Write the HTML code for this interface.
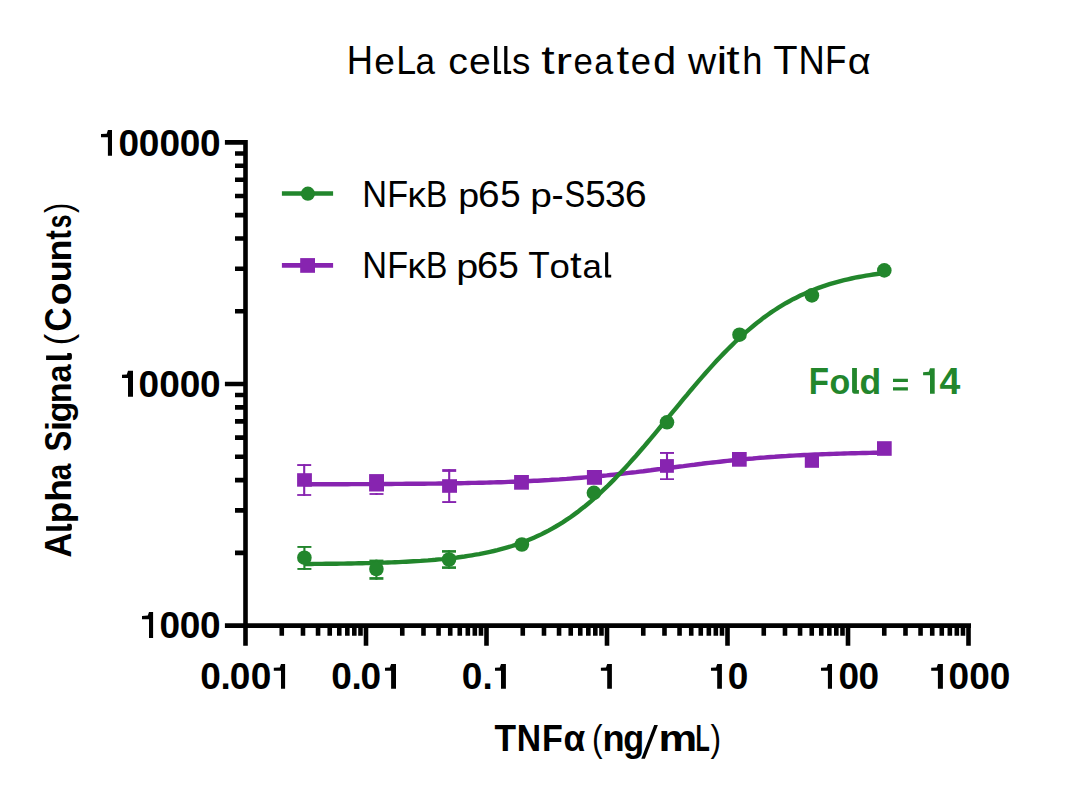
<!DOCTYPE html><html><head><meta charset="utf-8"><style>html,body{margin:0;padding:0;background:#fff}svg{display:block}text{font-family:"Liberation Sans",sans-serif}</style></head><body>
<svg width="1080" height="796" viewBox="0 0 1080 796">
<rect width="1080" height="796" fill="#fff"/>
<path d="M245.50,140.1 V645.8 M224.90,625.60 H245.50 M235.00,552.87 H245.50 M235.00,510.33 H245.50 M235.00,480.14 H245.50 M235.00,456.73 H245.50 M235.00,437.60 H245.50 M235.00,421.42 H245.50 M235.00,407.41 H245.50 M235.00,395.06 H245.50 M224.90,384.00 H245.50 M235.00,311.27 H245.50 M235.00,268.73 H245.50 M235.00,238.54 H245.50 M235.00,215.13 H245.50 M235.00,196.00 H245.50 M235.00,179.82 H245.50 M235.00,165.81 H245.50 M235.00,153.46 H245.50 M224.90,142.40 H245.50 M245.50,625.60 H971 M245.50,625.60 V645.8 M281.77,625.60 V635.8 M302.99,625.60 V635.8 M318.05,625.60 V635.8 M329.73,625.60 V635.8 M339.27,625.60 V635.8 M347.33,625.60 V635.8 M354.32,625.60 V635.8 M360.49,625.60 V635.8 M366.00,625.60 V645.8 M402.27,625.60 V635.8 M423.49,625.60 V635.8 M438.55,625.60 V635.8 M450.23,625.60 V635.8 M459.77,625.60 V635.8 M467.83,625.60 V635.8 M474.82,625.60 V635.8 M480.99,625.60 V635.8 M486.50,625.60 V645.8 M522.77,625.60 V635.8 M543.99,625.60 V635.8 M559.05,625.60 V635.8 M570.73,625.60 V635.8 M580.27,625.60 V635.8 M588.33,625.60 V635.8 M595.32,625.60 V635.8 M601.49,625.60 V635.8 M607.00,625.60 V645.8 M643.27,625.60 V635.8 M664.49,625.60 V635.8 M679.55,625.60 V635.8 M691.23,625.60 V635.8 M700.77,625.60 V635.8 M708.83,625.60 V635.8 M715.82,625.60 V635.8 M721.99,625.60 V635.8 M727.50,625.60 V645.8 M763.77,625.60 V635.8 M784.99,625.60 V635.8 M800.05,625.60 V635.8 M811.73,625.60 V635.8 M821.27,625.60 V635.8 M829.33,625.60 V635.8 M836.32,625.60 V635.8 M842.49,625.60 V635.8 M848.00,625.60 V645.8 M884.27,625.60 V635.8 M905.49,625.60 V635.8 M920.55,625.60 V635.8 M932.23,625.60 V635.8 M941.77,625.60 V635.8 M949.83,625.60 V635.8 M956.82,625.60 V635.8 M962.99,625.60 V635.8 M968.5,625.60 V645.8" stroke="#000" stroke-width="4.6" fill="none"/>
<text x="200.34 220.39 229.74 250.64" y="688.80" font-size="37" font-weight="bold" fill="#000">0.00</text>
<path d="M281.00,663.90 H285.10 V688.80 H281.00 V670.87 H273.80 V667.79 L279.80,667.39 Z" fill="#000"/>
<text x="331.34 351.39 360.44" y="688.80" font-size="37" font-weight="bold" fill="#000">0.0</text>
<path d="M391.10,663.90 H396.00 V688.80 H391.10 V670.87 H385.00 V667.79 L389.90,667.39 Z" fill="#000"/>
<text x="461.79 482.49" y="688.80" font-size="37" font-weight="bold" fill="#000">0.</text>
<path d="M501.00,663.90 H505.90 V688.80 H501.00 V670.87 H495.00 V667.79 L499.80,667.39 Z" fill="#000"/>
<path d="M607.20,663.90 H611.90 V688.80 H607.20 V670.87 H600.90 V667.79 L606.00,667.39 Z" fill="#000"/>
<text x="727.64" y="688.80" font-size="37" font-weight="bold" fill="#000">0</text>
<path d="M717.20,663.90 H721.90 V688.80 H717.20 V670.87 H711.00 V667.79 L716.00,667.39 Z" fill="#000"/>
<text x="838.54 858.44" y="688.80" font-size="37" font-weight="bold" fill="#000">00</text>
<path d="M827.90,663.90 H832.00 V688.80 H827.90 V670.87 H821.00 V667.79 L826.70,667.39 Z" fill="#000"/>
<text x="948.44 969.14 989.64" y="688.80" font-size="37" font-weight="bold" fill="#000">000</text>
<path d="M937.90,663.90 H942.90 V688.80 H937.90 V670.87 H931.20 V667.79 L936.70,667.39 Z" fill="#000"/>
<text x="118.44 138.64 159.44 179.64 200.04" y="155.70" font-size="37" font-weight="bold" fill="#000">00000</text>
<path d="M107.90,130.10 H112.00 V155.70 H107.90 V137.27 H101.00 V134.08 L106.70,133.68 Z" fill="#000"/>
<text x="138.54 159.34 179.74 200.04" y="396.80" font-size="37" font-weight="bold" fill="#000">0000</text>
<path d="M128.00,370.80 H133.00 V396.80 H128.00 V378.08 H122.00 V374.84 L126.80,374.44 Z" fill="#000"/>
<text x="159.44 179.74 200.04" y="638.00" font-size="37" font-weight="bold" fill="#000">000</text>
<path d="M149.00,611.90 H153.10 V638.00 H149.00 V619.21 H142.00 V615.95 L147.80,615.55 Z" fill="#000"/>
<text x="346.82" y="73.90" font-size="40.5" font-weight="normal" fill="#000" textLength="26.24" lengthAdjust="spacingAndGlyphs">H</text>
<text x="374.22" y="73.90" font-size="37.2" font-weight="normal" fill="#000" textLength="20.62" lengthAdjust="spacingAndGlyphs">e</text>
<text x="396.16" y="73.90" font-size="40.5" font-weight="normal" fill="#000" textLength="19.93" lengthAdjust="spacingAndGlyphs">L</text>
<text x="415.61" y="73.90" font-size="37.2" font-weight="normal" fill="#000" textLength="19.49" lengthAdjust="spacingAndGlyphs">a</text>
<text x="448.23" y="73.90" font-size="37.2" font-weight="normal" fill="#000" textLength="19.71" lengthAdjust="spacingAndGlyphs">c</text>
<text x="469.03" y="73.90" font-size="37.2" font-weight="normal" fill="#000" textLength="21.81" lengthAdjust="spacingAndGlyphs">e</text>
<text x="511.98" y="73.90" font-size="37.2" font-weight="normal" fill="#000" textLength="18.35" lengthAdjust="spacingAndGlyphs">s</text>
<text x="541.17" y="73.90" font-size="40" font-weight="normal" fill="#000" textLength="13.38" lengthAdjust="spacingAndGlyphs">t</text>
<text x="555.41" y="73.90" font-size="37.2" font-weight="normal" fill="#000" textLength="16.52" lengthAdjust="spacingAndGlyphs">r</text>
<text x="573.42" y="73.90" font-size="37.2" font-weight="normal" fill="#000" textLength="19.32" lengthAdjust="spacingAndGlyphs">e</text>
<text x="594.25" y="73.90" font-size="37.2" font-weight="normal" fill="#000" textLength="18.95" lengthAdjust="spacingAndGlyphs">a</text>
<text x="616.41" y="73.90" font-size="40" font-weight="normal" fill="#000" textLength="12.62" lengthAdjust="spacingAndGlyphs">t</text>
<text x="630.85" y="73.90" font-size="37.2" font-weight="normal" fill="#000" textLength="20.27" lengthAdjust="spacingAndGlyphs">e</text>
<text x="652.94" y="73.90" font-size="38.2" font-weight="normal" fill="#000" textLength="23.25" lengthAdjust="spacingAndGlyphs">d</text>
<text x="687.96" y="73.90" font-size="37.2" font-weight="normal" fill="#000" textLength="28.15" lengthAdjust="spacingAndGlyphs">w</text>
<text x="716.43" y="73.90" font-size="38.2" font-weight="normal" fill="#000" textLength="10.87" lengthAdjust="spacingAndGlyphs">i</text>
<text x="726.37" y="73.90" font-size="40" font-weight="normal" fill="#000" textLength="13.38" lengthAdjust="spacingAndGlyphs">t</text>
<text x="742.19" y="73.90" font-size="38.2" font-weight="normal" fill="#000" textLength="20.17" lengthAdjust="spacingAndGlyphs">h</text>
<text x="773.21" y="73.90" font-size="40.5" font-weight="normal" fill="#000" textLength="24.31" lengthAdjust="spacingAndGlyphs">T</text>
<text x="798.52" y="73.90" font-size="40.5" font-weight="normal" fill="#000" textLength="26.24" lengthAdjust="spacingAndGlyphs">N</text>
<text x="825.03" y="73.90" font-size="40.5" font-weight="normal" fill="#000" textLength="21.37" lengthAdjust="spacingAndGlyphs">F</text>
<text x="847.73" y="73.90" font-size="37.2" font-weight="normal" fill="#000" textLength="23.02" lengthAdjust="spacingAndGlyphs">α</text>
<path d="M494.10,46.10 H497.30 V70.90 H501.10 V73.90 H495.40 Q494.10,73.90 494.10,72.60 Z" fill="#000"/>
<path d="M504.20,46.10 H507.40 V70.90 H511.20 V73.90 H505.50 Q504.20,73.90 504.20,72.60 Z" fill="#000"/>
<text x="362.18" y="206.80" font-size="37.3" font-weight="normal" fill="#000" textLength="24.82" lengthAdjust="spacingAndGlyphs">N</text>
<text x="387.20" y="206.80" font-size="37.3" font-weight="normal" fill="#000" textLength="20.87" lengthAdjust="spacingAndGlyphs">F</text>
<text x="407.52" y="206.80" font-size="35" font-weight="normal" fill="#000" textLength="18.43" lengthAdjust="spacingAndGlyphs">κ</text>
<text x="426.12" y="206.80" font-size="37.3" font-weight="normal" fill="#000" textLength="21.37" lengthAdjust="spacingAndGlyphs">B</text>
<text x="458.38" y="206.80" font-size="33.6" font-weight="normal" fill="#000" textLength="20.90" lengthAdjust="spacingAndGlyphs">p</text>
<text x="478.03" y="206.80" font-size="37.3" font-weight="normal" fill="#000" textLength="21.57" lengthAdjust="spacingAndGlyphs">6</text>
<text x="500.33" y="206.80" font-size="37.3" font-weight="normal" fill="#000" textLength="20.41" lengthAdjust="spacingAndGlyphs">5</text>
<text x="530.19" y="206.80" font-size="33.6" font-weight="normal" fill="#000" textLength="21.64" lengthAdjust="spacingAndGlyphs">p</text>
<text x="551.38" y="206.80" font-size="36.2" font-weight="normal" fill="#000" textLength="12.14" lengthAdjust="spacingAndGlyphs">-</text>
<text x="564.40" y="206.80" font-size="37.3" font-weight="normal" fill="#000" textLength="20.62" lengthAdjust="spacingAndGlyphs">S</text>
<text x="585.23" y="206.80" font-size="37.3" font-weight="normal" fill="#000" textLength="20.41" lengthAdjust="spacingAndGlyphs">5</text>
<text x="604.89" y="206.80" font-size="37.3" font-weight="normal" fill="#000" textLength="20.53" lengthAdjust="spacingAndGlyphs">3</text>
<text x="624.70" y="206.80" font-size="37.3" font-weight="normal" fill="#000" textLength="21.94" lengthAdjust="spacingAndGlyphs">6</text>
<text x="362.18" y="277.60" font-size="37.3" font-weight="normal" fill="#000" textLength="24.82" lengthAdjust="spacingAndGlyphs">N</text>
<text x="387.20" y="277.60" font-size="37.3" font-weight="normal" fill="#000" textLength="20.87" lengthAdjust="spacingAndGlyphs">F</text>
<text x="407.52" y="277.60" font-size="35" font-weight="normal" fill="#000" textLength="18.43" lengthAdjust="spacingAndGlyphs">κ</text>
<text x="426.12" y="277.60" font-size="37.3" font-weight="normal" fill="#000" textLength="21.37" lengthAdjust="spacingAndGlyphs">B</text>
<text x="456.35" y="277.60" font-size="33.6" font-weight="normal" fill="#000" textLength="22.01" lengthAdjust="spacingAndGlyphs">p</text>
<text x="477.06" y="277.60" font-size="37.3" font-weight="normal" fill="#000" textLength="21.21" lengthAdjust="spacingAndGlyphs">6</text>
<text x="498.22" y="277.60" font-size="37.3" font-weight="normal" fill="#000" textLength="20.53" lengthAdjust="spacingAndGlyphs">5</text>
<text x="528.31" y="277.60" font-size="37.3" font-weight="normal" fill="#000" textLength="21.50" lengthAdjust="spacingAndGlyphs">T</text>
<text x="549.56" y="277.60" font-size="33.6" font-weight="normal" fill="#000" textLength="20.38" lengthAdjust="spacingAndGlyphs">o</text>
<text x="570.07" y="277.60" font-size="36" font-weight="normal" fill="#000" textLength="11.64" lengthAdjust="spacingAndGlyphs">t</text>
<text x="582.62" y="277.60" font-size="33.6" font-weight="normal" fill="#000" textLength="19.38" lengthAdjust="spacingAndGlyphs">a</text>
<path d="M605.10,252.20 H608.20 V274.70 H611.20 V277.60 H606.40 Q605.10,277.60 605.10,276.30 Z" fill="#000"/>
<path d="M281.9,193.5 H333.1" stroke="#22862c" stroke-width="4.6"/>
<circle cx="307.9" cy="193.7" r="7.1" fill="#22862c"/>
<path d="M281.9,265.4 H333.1" stroke="#8724b0" stroke-width="4.6"/>
<rect x="300.2" y="258.1" width="14.8" height="14.7" fill="#8724b0"/>
<text x="494.60" y="751.00" font-size="37.6" font-weight="bold" fill="#000" textLength="21.58" lengthAdjust="spacingAndGlyphs">T</text>
<text x="516.85" y="751.00" font-size="37.6" font-weight="bold" fill="#000" textLength="24.32" lengthAdjust="spacingAndGlyphs">N</text>
<text x="542.12" y="751.00" font-size="37.6" font-weight="bold" fill="#000" textLength="20.83" lengthAdjust="spacingAndGlyphs">F</text>
<text x="563.62" y="751.00" font-size="36" font-weight="bold" fill="#000" textLength="21.74" lengthAdjust="spacingAndGlyphs">α</text>
<text x="591.94" y="751.00" font-size="37.4" font-weight="normal" fill="#000" textLength="10.55" lengthAdjust="spacingAndGlyphs">(</text>
<text x="602.51" y="751.00" font-size="36" font-weight="bold" fill="#000" textLength="22.14" lengthAdjust="spacingAndGlyphs">n</text>
<text x="623.30" y="751.00" font-size="36" font-weight="bold" fill="#000" textLength="20.89" lengthAdjust="spacingAndGlyphs">g</text>
<text x="658.43" y="751.00" font-size="36" font-weight="bold" fill="#000" textLength="38.66" lengthAdjust="spacingAndGlyphs">m</text>
<text x="695.44" y="751.00" font-size="37.6" font-weight="bold" fill="#000" textLength="14.28" lengthAdjust="spacingAndGlyphs">L</text>
<text x="710.41" y="751.00" font-size="37.4" font-weight="normal" fill="#000" textLength="10.55" lengthAdjust="spacingAndGlyphs">)</text>
<path d="M654.2,725 H657.9 L644.9,758.7 H641.3 Z"/>
<text transform="translate(71.20,0) rotate(-90)" x="-557.46" y="0" font-size="36.6" font-weight="bold" fill="#000" textLength="24.87" lengthAdjust="spacingAndGlyphs">A</text>
<text transform="translate(71.20,0) rotate(-90)" x="-523.33" y="0" font-size="35" font-weight="bold" fill="#000" textLength="21.58" lengthAdjust="spacingAndGlyphs">p</text>
<text transform="translate(71.20,0) rotate(-90)" x="-501.79" y="0" font-size="35" font-weight="bold" fill="#000" textLength="22.70" lengthAdjust="spacingAndGlyphs">h</text>
<text transform="translate(71.20,0) rotate(-90)" x="-480.27" y="0" font-size="34.3" font-weight="bold" fill="#000" textLength="16.48" lengthAdjust="spacingAndGlyphs">a</text>
<text transform="translate(71.20,0) rotate(-90)" x="-451.60" y="0" font-size="36.6" font-weight="bold" fill="#000" textLength="20.82" lengthAdjust="spacingAndGlyphs">S</text>
<text transform="translate(71.20,0) rotate(-90)" x="-431.09" y="0" font-size="35" font-weight="bold" fill="#000" textLength="9.92" lengthAdjust="spacingAndGlyphs">i</text>
<text transform="translate(71.20,0) rotate(-90)" x="-422.41" y="0" font-size="35" font-weight="bold" fill="#000" textLength="21.01" lengthAdjust="spacingAndGlyphs">g</text>
<text transform="translate(71.20,0) rotate(-90)" x="-403.15" y="0" font-size="34.3" font-weight="bold" fill="#000" textLength="20.87" lengthAdjust="spacingAndGlyphs">n</text>
<text transform="translate(71.20,0) rotate(-90)" x="-382.55" y="0" font-size="34.3" font-weight="bold" fill="#000" textLength="18.04" lengthAdjust="spacingAndGlyphs">a</text>
<text transform="translate(71.20,0) rotate(-90)" x="-345.13" y="0" font-size="36.6" font-weight="normal" fill="#000" textLength="11.43" lengthAdjust="spacingAndGlyphs">(</text>
<text transform="translate(71.20,0) rotate(-90)" x="-331.57" y="0" font-size="36.6" font-weight="bold" fill="#000" textLength="24.08" lengthAdjust="spacingAndGlyphs">C</text>
<text transform="translate(71.20,0) rotate(-90)" x="-305.27" y="0" font-size="34.3" font-weight="bold" fill="#000" textLength="22.93" lengthAdjust="spacingAndGlyphs">o</text>
<text transform="translate(71.20,0) rotate(-90)" x="-282.32" y="0" font-size="34.3" font-weight="bold" fill="#000" textLength="21.88" lengthAdjust="spacingAndGlyphs">u</text>
<text transform="translate(71.20,0) rotate(-90)" x="-261.56" y="0" font-size="34.3" font-weight="bold" fill="#000" textLength="21.88" lengthAdjust="spacingAndGlyphs">n</text>
<text transform="translate(71.20,0) rotate(-90)" x="-239.54" y="0" font-size="37" font-weight="bold" fill="#000" textLength="9.28" lengthAdjust="spacingAndGlyphs">t</text>
<text transform="translate(71.20,0) rotate(-90)" x="-228.16" y="0" font-size="34.3" font-weight="bold" fill="#000" textLength="13.67" lengthAdjust="spacingAndGlyphs">s</text>
<text transform="translate(71.20,0) rotate(-90)" x="-212.98" y="0" font-size="36.6" font-weight="normal" fill="#000" textLength="10.30" lengthAdjust="spacingAndGlyphs">)</text>
<path d="M46.1,526.30 H67.2 V523.70 H70.6 Q71.9,524.10 71.9,525.70 V528.70 Q71.9,530.70 69.4,530.70 H46.1 Z"/>
<path d="M46.1,355.60 H67.2 V353.00 H70.6 Q71.9,353.40 71.9,355.00 V358.00 Q71.9,360.00 69.4,360.00 H46.1 Z"/>
<text x="808.78" y="393.80" font-size="37.5" font-weight="bold" fill="#22862c" textLength="20.23" lengthAdjust="spacingAndGlyphs">F</text>
<text x="829.47" y="393.80" font-size="34.5" font-weight="bold" fill="#22862c" textLength="20.75" lengthAdjust="spacingAndGlyphs">o</text>
<text x="859.54" y="393.80" font-size="35.6" font-weight="bold" fill="#22862c" textLength="21.70" lengthAdjust="spacingAndGlyphs">d</text>
<path d="M852.1,368.1 H856.9 V390 H858.9 V393.8 H854.6 Q852.1,393.8 852.1,391 Z" fill="#22862c"/>
<path d="M893,378.7 H907.9 V382.1 H893 Z M893,387.2 H907.9 V390.6 H893 Z" fill="#22862c"/>
<text x="939.43" y="393.80" font-size="37.5" font-weight="bold" fill="#22862c" textLength="20.77" lengthAdjust="spacingAndGlyphs">4</text>
<path d="M930.00,368.20 H934.70 V393.80 H930.00 V375.37 H923.10 V372.18 L928.80,371.78 Z" fill="#22862c"/>
<path d="M303.9,484.3 L307.5,484.3 L311.2,484.2 L314.8,484.2 L318.5,484.2 L322.1,484.2 L325.8,484.2 L329.4,484.2 L333.1,484.2 L336.7,484.2 L340.4,484.2 L344.0,484.2 L347.7,484.2 L351.3,484.1 L355.0,484.1 L358.6,484.1 L362.3,484.1 L365.9,484.1 L369.6,484.1 L373.2,484.1 L376.9,484.0 L380.5,484.0 L384.2,484.0 L387.8,484.0 L391.5,484.0 L395.1,483.9 L398.8,483.9 L402.4,483.9 L406.1,483.8 L409.7,483.8 L413.4,483.8 L417.0,483.8 L420.7,483.7 L424.3,483.7 L428.0,483.6 L431.6,483.6 L435.3,483.6 L438.9,483.5 L442.6,483.5 L446.2,483.4 L449.9,483.3 L453.5,483.3 L457.2,483.2 L460.8,483.2 L464.5,483.1 L468.1,483.0 L471.8,482.9 L475.4,482.9 L479.1,482.8 L482.7,482.7 L486.4,482.6 L490.0,482.5 L493.7,482.4 L497.4,482.3 L501.0,482.2 L504.7,482.1 L508.3,481.9 L512.0,481.8 L515.6,481.7 L519.3,481.5 L522.9,481.4 L526.6,481.2 L530.2,481.0 L533.9,480.8 L537.5,480.7 L541.2,480.5 L544.8,480.3 L548.5,480.1 L552.1,479.8 L555.8,479.6 L559.4,479.4 L563.1,479.1 L566.7,478.9 L570.4,478.6 L574.0,478.3 L577.7,478.0 L581.3,477.7 L585.0,477.4 L588.6,477.1 L592.3,476.8 L595.9,476.4 L599.6,476.1 L603.2,475.7 L606.9,475.4 L610.5,475.0 L614.2,474.6 L617.8,474.2 L621.5,473.8 L625.1,473.4 L628.8,472.9 L632.4,472.5 L636.1,472.1 L639.7,471.6 L643.4,471.2 L647.0,470.7 L650.7,470.3 L654.3,469.8 L658.0,469.3 L661.6,468.9 L665.3,468.4 L668.9,467.9 L672.6,467.5 L676.2,467.0 L679.9,466.5 L683.5,466.1 L687.2,465.6 L690.8,465.1 L694.5,464.7 L698.1,464.2 L701.8,463.8 L705.4,463.3 L709.1,462.9 L712.7,462.5 L716.4,462.1 L720.0,461.7 L723.7,461.3 L727.3,460.9 L731.0,460.5 L734.6,460.1 L738.3,459.8 L741.9,459.4 L745.6,459.1 L749.2,458.8 L752.9,458.5 L756.5,458.1 L760.2,457.8 L763.8,457.6 L767.5,457.3 L771.1,457.0 L774.8,456.8 L778.4,456.5 L782.1,456.3 L785.7,456.1 L789.4,455.8 L793.0,455.6 L796.7,455.4 L800.3,455.2 L804.0,455.0 L807.6,454.9 L811.3,454.7 L814.9,454.5 L818.6,454.4 L822.2,454.2 L825.9,454.1 L829.5,454.0 L833.2,453.9 L836.8,453.7 L840.5,453.6 L844.1,453.5 L847.8,453.4 L851.4,453.3 L855.1,453.2 L858.7,453.1 L862.4,453.0 L866.0,453.0 L869.7,452.9 L873.3,452.8 L877.0,452.8 L880.6,452.7 L884.3,452.6" stroke="#8724b0" stroke-width="4.4" fill="none"/>
<rect x="297.20" y="464.10" width="14.00" height="1.90" fill="#8724b0"/>
<rect x="297.20" y="494.10" width="14.00" height="1.80" fill="#8724b0"/>
<rect x="303.15" y="464.10" width="2.10" height="31.80" fill="#8724b0"/>
<rect x="297.10" y="473.20" width="14.80" height="13.50" fill="#8724b0"/>
<rect x="369.50" y="493.10" width="14.00" height="1.80" fill="#8724b0"/>
<rect x="375.45" y="493.10" width="2.10" height="1.80" fill="#8724b0"/>
<rect x="369.10" y="474.10" width="14.90" height="17.40" fill="#8724b0"/>
<rect x="442.20" y="469.10" width="14.00" height="2.80" fill="#8724b0"/>
<rect x="442.20" y="501.10" width="14.00" height="1.90" fill="#8724b0"/>
<rect x="448.15" y="469.10" width="2.10" height="33.90" fill="#8724b0"/>
<rect x="442.10" y="479.20" width="14.90" height="13.60" fill="#8724b0"/>
<rect x="514.10" y="475.00" width="14.80" height="14.70" fill="#8724b0"/>
<rect x="586.90" y="470.00" width="15.10" height="14.80" fill="#8724b0"/>
<rect x="660.00" y="452.00" width="14.00" height="1.90" fill="#8724b0"/>
<rect x="660.00" y="478.30" width="14.00" height="1.70" fill="#8724b0"/>
<rect x="665.95" y="452.00" width="2.10" height="28.00" fill="#8724b0"/>
<rect x="660.00" y="459.10" width="13.90" height="13.70" fill="#8724b0"/>
<rect x="732.00" y="452.00" width="14.70" height="14.70" fill="#8724b0"/>
<rect x="804.80" y="453.50" width="14.20" height="14.30" fill="#8724b0"/>
<rect x="877.00" y="441.20" width="14.70" height="14.60" fill="#8724b0"/>
<path d="M303.9,564.0 L307.5,564.0 L311.2,564.0 L314.8,563.9 L318.5,563.9 L322.1,563.9 L325.8,563.8 L329.4,563.8 L333.1,563.7 L336.7,563.7 L340.4,563.6 L344.0,563.6 L347.7,563.5 L351.3,563.5 L355.0,563.4 L358.6,563.3 L362.3,563.2 L365.9,563.1 L369.6,563.1 L373.2,563.0 L376.9,562.9 L380.5,562.7 L384.2,562.6 L387.8,562.5 L391.5,562.4 L395.1,562.2 L398.8,562.1 L402.4,561.9 L406.1,561.7 L409.7,561.5 L413.4,561.3 L417.0,561.1 L420.7,560.9 L424.3,560.6 L428.0,560.4 L431.6,560.1 L435.3,559.8 L438.9,559.4 L442.6,559.1 L446.2,558.7 L449.9,558.3 L453.5,557.9 L457.2,557.5 L460.8,557.0 L464.5,556.5 L468.1,555.9 L471.8,555.3 L475.4,554.7 L479.1,554.1 L482.7,553.4 L486.4,552.6 L490.0,551.8 L493.7,551.0 L497.4,550.1 L501.0,549.1 L504.7,548.1 L508.3,547.1 L512.0,546.0 L515.6,544.8 L519.3,543.5 L522.9,542.2 L526.6,540.8 L530.2,539.3 L533.9,537.7 L537.5,536.1 L541.2,534.4 L544.8,532.5 L548.5,530.6 L552.1,528.6 L555.8,526.5 L559.4,524.3 L563.1,522.1 L566.7,519.7 L570.4,517.2 L574.0,514.6 L577.7,511.9 L581.3,509.1 L585.0,506.2 L588.6,503.2 L592.3,500.1 L595.9,496.9 L599.6,493.6 L603.2,490.2 L606.9,486.7 L610.5,483.1 L614.2,479.4 L617.8,475.6 L621.5,471.8 L625.1,467.9 L628.8,463.9 L632.4,459.8 L636.1,455.7 L639.7,451.5 L643.4,447.3 L647.0,443.0 L650.7,438.7 L654.3,434.3 L658.0,429.9 L661.6,425.5 L665.3,421.1 L668.9,416.6 L672.6,412.2 L676.2,407.8 L679.9,403.3 L683.5,398.9 L687.2,394.6 L690.8,390.2 L694.5,385.9 L698.1,381.6 L701.8,377.4 L705.4,373.2 L709.1,369.1 L712.7,365.1 L716.4,361.1 L720.0,357.2 L723.7,353.4 L727.3,349.7 L731.0,346.1 L734.6,342.5 L738.3,339.1 L741.9,335.7 L745.6,332.4 L749.2,329.3 L752.9,326.2 L756.5,323.2 L760.2,320.4 L763.8,317.6 L767.5,315.0 L771.1,312.4 L774.8,310.0 L778.4,307.6 L782.1,305.4 L785.7,303.2 L789.4,301.2 L793.0,299.2 L796.7,297.4 L800.3,295.6 L804.0,293.9 L807.6,292.3 L811.3,290.7 L814.9,289.3 L818.6,287.9 L822.2,286.6 L825.9,285.4 L829.5,284.2 L833.2,283.1 L836.8,282.1 L840.5,281.1 L844.1,280.2 L847.8,279.3 L851.4,278.5 L855.1,277.7 L858.7,277.0 L862.4,276.3 L866.0,275.7 L869.7,275.1 L873.3,274.5 L877.0,274.0 L880.6,273.5 L884.3,273.0" stroke="#22862c" stroke-width="4.4" fill="none"/>
<rect x="297.40" y="546.00" width="14.00" height="1.90" fill="#22862c"/>
<rect x="297.40" y="568.00" width="14.00" height="1.90" fill="#22862c"/>
<rect x="303.35" y="546.00" width="2.10" height="23.90" fill="#22862c"/>
<circle cx="304.40" cy="557.70" r="7.3" fill="#22862c"/>
<rect x="369.40" y="559.60" width="14.00" height="2.20" fill="#22862c"/>
<rect x="369.40" y="577.10" width="14.00" height="2.70" fill="#22862c"/>
<rect x="375.35" y="559.60" width="2.10" height="20.20" fill="#22862c"/>
<circle cx="376.40" cy="569.00" r="7.3" fill="#22862c"/>
<rect x="442.00" y="550.10" width="14.00" height="2.60" fill="#22862c"/>
<rect x="442.00" y="566.30" width="14.00" height="2.60" fill="#22862c"/>
<rect x="447.95" y="550.10" width="2.10" height="18.80" fill="#22862c"/>
<circle cx="449.00" cy="559.50" r="7.3" fill="#22862c"/>
<circle cx="521.90" cy="544.50" r="7.3" fill="#22862c"/>
<circle cx="593.90" cy="492.80" r="7.3" fill="#22862c"/>
<circle cx="667.00" cy="422.30" r="7.3" fill="#22862c"/>
<circle cx="739.50" cy="334.70" r="7.3" fill="#22862c"/>
<circle cx="811.90" cy="295.40" r="7.3" fill="#22862c"/>
<circle cx="884.30" cy="270.40" r="7.3" fill="#22862c"/>
</svg></body></html>
